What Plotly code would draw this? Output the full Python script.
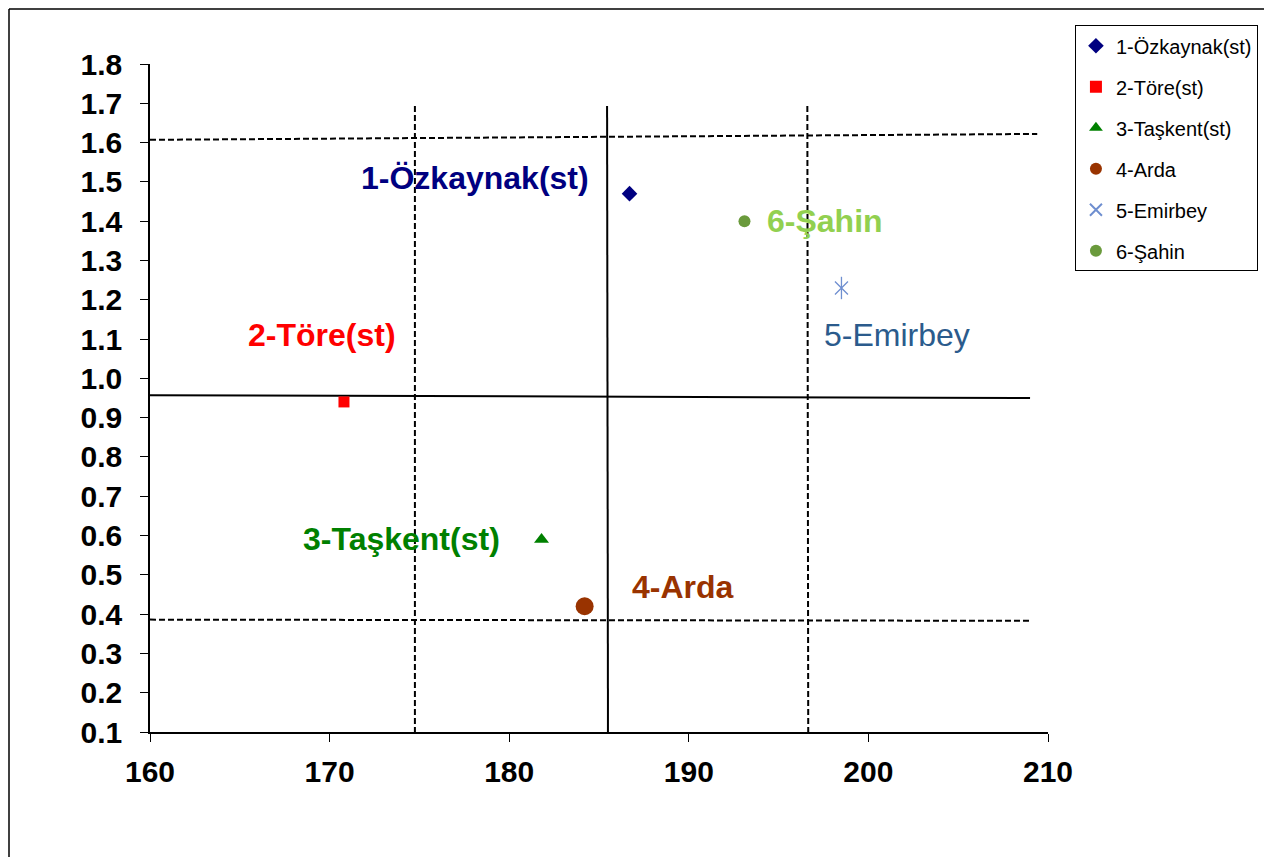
import plotly.graph_objects as go

# --- data ---
names = ["1-Özkaynak(st)", "2-Töre(st)", "3-Taşkent(st)", "4-Arda", "5-Emirbey", "6-Şahin"]
x_vals = [186.7, 170.8, 181.8, 184.2, 198.5, 193.1]
y_vals = [1.47, 0.94, 0.59, 0.42, 1.23, 1.40]

label_x = [178.1, 169.6, 174.0, 189.7, 201.6, 197.6]
label_y = [1.51, 1.11, 0.59, 0.47, 1.11, 1.40]

# reference lines (x0, y0, x1, y1)
h_solid = [160, 0.957, 209, 0.950]
h_dash_top = [160, 1.607, 209.4, 1.622]
h_dash_bot = [160, 0.386, 209, 0.383]
v_dash_left = [174.75, 1.693, 174.75, 0.1]
v_solid = [185.45, 1.693, 185.5, 0.1]
v_dash_right = [196.6, 1.693, 196.65, 0.1]

x_ticks = [160, 170, 180, 190, 200, 210]
y_ticks = [0.1, 0.2, 0.3, 0.4, 0.5, 0.6, 0.7, 0.8, 0.9, 1.0, 1.1, 1.2, 1.3, 1.4, 1.5, 1.6, 1.7, 1.8]

# --- styles ---
symbols = ["diamond", "square", "triangle-up", "circle", "x-thin-open", "circle"]
colors = ["#000080", "#FF0000", "#008000", "#993300", "#6F8FD0", "#6A9A3C"]
sizes = [12, 11, 13, 18, 13, 12]
label_colors = ["#000080", "#FF0000", "#008000", "#993300", "#2B5B8C", "#92D050"]
label_bold = [True, True, True, True, False, True]

FONT = "Liberation Sans, Arial"
fig = go.Figure()

dash_style = "6px,3px"
for seg, dash in [(h_solid, "solid"), (h_dash_top, dash_style), (h_dash_bot, dash_style),
                  (v_dash_left, dash_style), (v_solid, "solid"), (v_dash_right, dash_style)]:
    fig.add_trace(go.Scatter(
        x=[seg[0], seg[2]], y=[seg[1], seg[3]], mode="lines",
        line=dict(color="black", width=2, dash=dash),
        showlegend=False, hoverinfo="skip"))

for i, n in enumerate(names):
    thin = symbols[i].endswith("-open")
    fig.add_trace(go.Scatter(
        x=[x_vals[i]], y=[y_vals[i]], mode="markers", name=n,
        legendgroup=n,
        marker=dict(symbol=symbols[i], color=colors[i], size=sizes[i],
                    line=dict(color=colors[i], width=1.3 if thin else 0))))
    if thin:
        # vertical stroke to complete the six-armed asterisk
        fig.add_trace(go.Scatter(
            x=[x_vals[i]], y=[y_vals[i]], mode="markers", legendgroup=n, showlegend=False,
            marker=dict(symbol="line-ns-open", color=colors[i], size=sizes[i] + 3,
                        line=dict(color=colors[i], width=1.3)),
            hoverinfo="skip"))

for i, n in enumerate(names):
    txt = f"<b>{n}</b>" if label_bold[i] else n
    fig.add_annotation(x=label_x[i], y=label_y[i], text=txt, showarrow=False,
                       font=dict(family=FONT, size=32, color=label_colors[i]),
                       xanchor="center", yanchor="middle")

# target plot area in page px: left 150, top 64, right 1048, bottom 732 (page has 8px body offset)
fig.update_layout(
    width=1272, height=857,
    margin=dict(l=142, r=232, t=56, b=133),
    paper_bgcolor="white", plot_bgcolor="white",
    font=dict(family=FONT, color="black"),
    legend=dict(x=1.030, y=1.058, xanchor="left", yanchor="top",
                bgcolor="white", bordercolor="black", borderwidth=1,
                font=dict(size=20, color="black", family=FONT),
                traceorder="grouped", tracegroupgap=12, itemsizing="constant",
                itemwidth=30),
    xaxis=dict(range=[160, 210], tickvals=x_ticks, ticktext=[str(v) for v in x_ticks],
               showgrid=False, zeroline=False, showline=True, linecolor="black", linewidth=1.5,
               ticks="outside", ticklen=8, tickcolor="black", tickwidth=1.2,
               tickfont=dict(size=30, family=FONT, color="black", weight="bold"),
               ticklabelstandoff=4),
    yaxis=dict(range=[0.1, 1.8], tickvals=y_ticks, ticktext=[f"{v:.1f}" for v in y_ticks],
               showgrid=False, zeroline=False, showline=True, linecolor="black", linewidth=1.5,
               ticks="outside", ticklen=8, tickcolor="black", tickwidth=1.2,
               tickfont=dict(size=30, family=FONT, color="black", weight="bold"),
               ticklabelstandoff=12),
    showlegend=True,
)

# outer chart-area border (left and top edges visible)
fig.add_shape(type="line", xref="paper", yref="paper",
              x0=(1 - 142) / 898, x1=(1 - 142) / 898, y0=-0.3, y1=(724 - 1) / 668,
              line=dict(color="black", width=1.5))
fig.add_shape(type="line", xref="paper", yref="paper",
              x0=(1 - 142) / 898, x1=1.3, y0=(724 - 1) / 668, y1=(724 - 1) / 668,
              line=dict(color="black", width=1.5))

fig.write_html("out.html")
